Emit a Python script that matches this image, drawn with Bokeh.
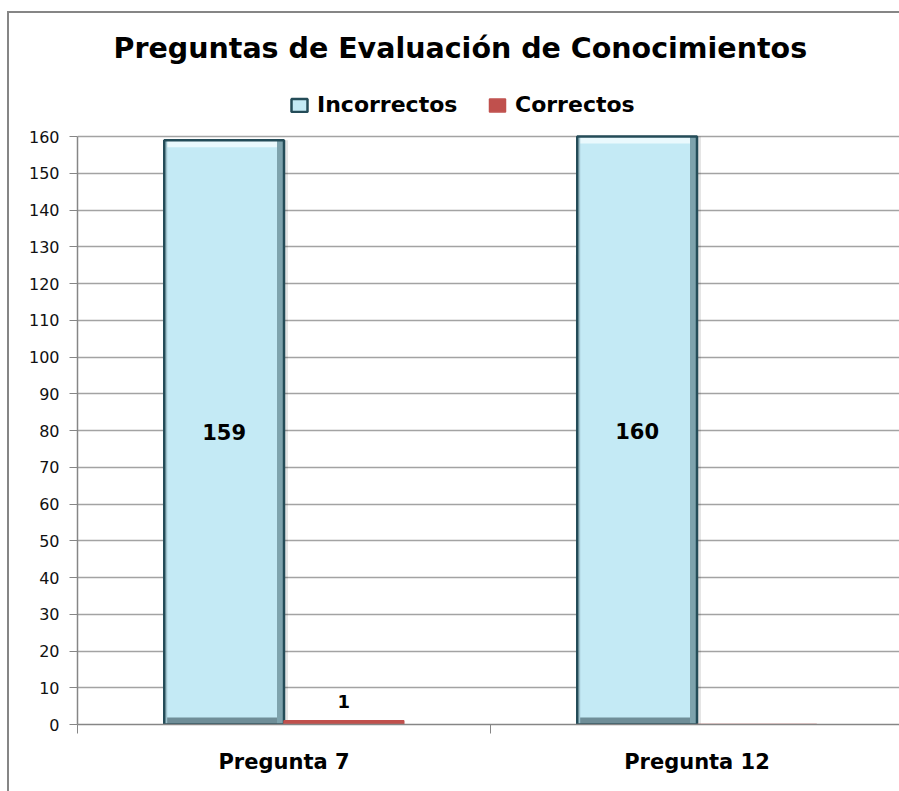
from bokeh.plotting import figure
from bokeh.models import (ColumnDataSource, Range1d, FixedTicker, LabelSet,
                          Legend, LegendItem)
from bokeh.core.properties import value
from bokeh.embed import file_html
from bokeh.resources import INLINE

categories = ["Pregunta 7", "Pregunta 12"]
incorrectos = [159, 160]
correctos = [1, 0]
y_ticks = list(range(0, 161, 10))
y_max = 160

FONT = "DejaVu Sans"
W, H = 899, 791
LEFT, TOP, BOTTOM = 77, 76, 67
TOP_160 = 136          # pixel row of the 160 gridline
cat_px = 413.0
frame_w = W - LEFT
x_end = frame_w / cat_px
frame_h = H - TOP - BOTTOM
plot_px = H - BOTTOM - TOP_160
y_end = y_max * frame_h / plot_px

# pixel -> data unit helpers (for the bevel styling of the bars)
px_x = 1.0 / cat_px
px_y = y_max / plot_px

idx = list(range(len(categories)))
bw = 0.29
xi = [i + 0.5 - bw / 2 for i in idx]
xc = [i + 0.5 + bw / 2 for i in idx]
bev = 7

src_i = ColumnDataSource(dict(x=xi, top=incorrectos,
                              mid=[v / 2 for v in incorrectos],
                              lab=[str(v) for v in incorrectos],
                              top_b=[v - bev * px_y for v in incorrectos],
                              bot_t=[bev * px_y for _ in incorrectos],
                              xr=[x + bw / 2 - bev * px_x / 2 for x in xi],
                              xl=[x - bw / 2 + 3 * px_x / 2 for x in xi]))
src_c = ColumnDataSource(dict(x=xc, top=correctos))
lab_c = ColumnDataSource(dict(x=[x for x, v in zip(xc, correctos) if v],
                              y=[v for v in correctos if v],
                              lab=[str(v) for v in correctos if v]))

p = figure(width=W, height=H, output_backend="svg", toolbar_location=None,
           x_range=Range1d(0, x_end), y_range=Range1d(0, y_end),
           min_border_left=LEFT, min_border_right=0, min_border_top=TOP,
           min_border_bottom=BOTTOM, border_fill_color=None,
           background_fill_color=None, outline_line_color=None)

p.styles = {
    "background": "linear-gradient(#868686,#868686) 8px 11px / calc(100% - 8px) 2px no-repeat, "
                  "linear-gradient(#868686,#868686) 7px 11px / 2px calc(100% - 11px) no-repeat, white",
}

# soft shadow right of the bars
p.vbar(x=[x + 4 * px_x for x in xi], top=incorrectos, width=bw, fill_color="#000000",
       fill_alpha=0.10, line_color=None)

r_i = p.vbar(x="x", top="top", width=bw, source=src_i, fill_color="#c4eaf5",
             line_color=None)
# bevel: top light band, bottom dark band, right dark band, left thin band
p.vbar(x="x", top="top", bottom="top_b", width=bw, source=src_i,
       fill_color="#eaf9fd", line_color=None)
p.vbar(x="x", top="bot_t", bottom=0, width=bw, source=src_i,
       fill_color="#6f8e98", line_color=None)
p.vbar(x="xr", top="top", width=bev * px_x, source=src_i,
       fill_color="#7ea3ad", line_color=None)
p.vbar(x="xl", top="top", width=3 * px_x, source=src_i,
       fill_color="#9fc3cd", line_color=None)
r_io = p.vbar(x="x", top="top", width=bw, source=src_i, fill_color=None,
              line_color="#244c58", line_width=2.5)

r_c = p.vbar(x="x", top="top", width=bw, source=src_c, fill_color="#c0504d",
             line_color="#c0504d", line_width=1.5)

p.add_layout(LabelSet(x="x", y="mid", text="lab", source=src_i, text_font=value(FONT),
                      text_font_style="bold", text_font_size="21px",
                      text_align="center", text_baseline="middle",
                      text_color="black"))
p.add_layout(LabelSet(x="x", y="y", text="lab", source=lab_c, text_font=value(FONT),
                      text_font_style="bold", text_font_size="18px",
                      text_align="center", text_baseline="bottom", y_offset=13,
                      text_color="black"))

# axes
p.xaxis.ticker = FixedTicker(ticks=[i + 0.5 for i in idx], minor_ticks=list(range(len(categories) + 1)))
p.xaxis.major_label_overrides = {i + 0.5: c for i, c in zip(idx, categories)}
p.xaxis.major_tick_line_color = None
p.xaxis.minor_tick_out = 9
p.xaxis.minor_tick_in = 0
p.xaxis.minor_tick_line_color = "#868686"
p.xaxis.axis_line_color = "#868686"
p.xaxis.axis_line_width = 1.5
p.xaxis.major_label_text_font = FONT
p.xaxis.major_label_text_font_style = "bold"
p.xaxis.major_label_text_font_size = "21px"
p.xaxis.major_label_text_color = "black"
p.xaxis.major_label_standoff = 16

p.yaxis.ticker = FixedTicker(ticks=y_ticks)
p.yaxis.bounds = (0, y_max)
p.yaxis.minor_tick_line_color = None
p.yaxis.major_tick_out = 8
p.yaxis.major_tick_in = 0
p.yaxis.major_tick_line_color = "#868686"
p.yaxis.axis_line_color = "#868686"
p.yaxis.axis_line_width = 1.5
p.yaxis.major_label_text_font = FONT
p.yaxis.major_label_text_font_size = "16px"
p.yaxis.major_label_text_color = "#111111"
p.yaxis.major_label_standoff = 10

p.xgrid.grid_line_color = None
p.ygrid.ticker = FixedTicker(ticks=y_ticks)
p.ygrid.grid_line_color = "#a3a3a3"
p.ygrid.grid_line_width = 1.5

p.title.text = "Preguntas de Evaluación de Conocimientos"
p.title.text_font = FONT
p.title.text_font_style = "bold"
p.title.text_font_size = "28.5px"
p.title.text_color = "black"
p.title.align = "left"
p.title.offset = 36
p.title.standoff = 24

legend = Legend(items=[LegendItem(label="Incorrectos", renderers=[r_i, r_io]),
                       LegendItem(label="Correctos", renderers=[r_c])],
                orientation="horizontal", location=(212, 607),
                glyph_width=20, glyph_height=16, label_standoff=8, spacing=6,
                label_width=164,
                padding=4, margin=0, border_line_color=None,
                background_fill_alpha=0, label_text_font=FONT,
                label_text_font_style="bold", label_text_font_size="22px",
                label_text_color="black", label_height=16)
p.add_layout(legend, "center")

open("out.html", "w").write(file_html(p, INLINE))
